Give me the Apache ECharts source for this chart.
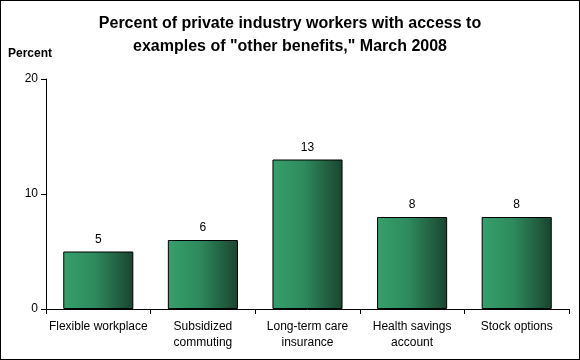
<!DOCTYPE html>
<html><head><meta charset="utf-8">
<script src="https://cdn.jsdelivr.net/npm/echarts@6/dist/echarts.min.js"></script>
<style>html,body{margin:0;padding:0;background:#fff}#c{width:580px;height:360px;box-sizing:border-box;border:1px solid #000}</style>
</head><body><div id="c"></div>
<script>
const categories = ['Flexible workplace', 'Subsidized\ncommuting', 'Long-term care\ninsurance', 'Health savings\naccount', 'Stock options'];
const values = [5, 6, 13, 8, 8];
const yTicks = [0, 10, 20];
const chart = echarts.init(document.getElementById('c'), null, {renderer: 'canvas'});
const font = 'Arial, "Liberation Sans", sans-serif';
chart.setOption({
  animation: false,
  backgroundColor: '#fff',
  title: {
    text: 'Percent of private industry workers with access to\nexamples of "other benefits," March 2008',
    left: 'center', top: 6,
    textStyle: {fontFamily: font, fontSize: 16, fontWeight: 'bold', color: '#000', lineHeight: 23}
  },
  graphic: [{type: 'text', left: 7, top: 47, style: {text: 'Percent', font: 'bold 12px ' + font, fill: '#000'}}],
  grid: {left: 45, right: 10, top: 78, bottom: 50},
  xAxis: {
    type: 'category', data: categories,
    axisLine: {lineStyle: {color: '#000'}},
    axisTick: {show: true, alignWithLabel: false, length: 5, lineStyle: {color: '#000'}},
    axisLabel: {color: '#000', fontFamily: font, fontSize: 12, lineHeight: 16, margin: 10, interval: 0}
  },
  yAxis: {
    type: 'value', min: yTicks[0], max: yTicks[yTicks.length - 1], interval: 10,
    splitLine: {show: false},
    axisLine: {show: true, lineStyle: {color: '#000'}},
    axisTick: {show: true, length: 5, lineStyle: {color: '#000'}},
    axisLabel: {color: '#000', fontFamily: font, fontSize: 12, margin: 8}
  },
  series: [{
    type: 'bar', data: values, barCategoryGap: '33%',
    itemStyle: {
      borderColor: '#000', borderWidth: 1,
      color: new echarts.graphic.LinearGradient(0, 0, 1, 0, [
        {offset: 0, color: '#36a06c'},
        {offset: 0.45, color: '#2e8a5c'},
        {offset: 1, color: '#1a4430'}
      ])
    },
    label: {show: true, position: 'top', distance: 6, color: '#000', fontFamily: font, fontSize: 12}
  }]
});
</script></body></html>
